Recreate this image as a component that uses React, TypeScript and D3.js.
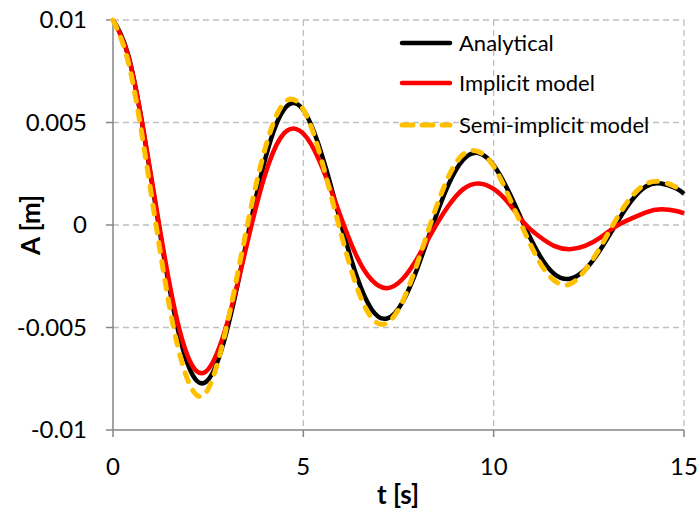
import React from "react";
import * as d3 from "d3";

const tValues = [0, 0.4, 0.8, 1.2, 1.6, 2.0, 2.4, 2.8, 3.2, 3.6, 4.0, 4.4, 4.8, 5.2, 5.6, 6.0, 6.4, 6.8, 7.2, 7.6, 8.0, 8.4, 8.8, 9.2, 9.6, 10.0, 10.4, 10.8, 11.2, 11.6, 12.0, 12.4, 12.8, 13.2, 13.6, 14.0, 14.4, 14.8, 15.0];

const analytical = [0.01, 0.00829, 0.00458, 0, -0.0042, -0.00696, -0.0077, -0.00638, -0.00353, 0, 0.00323, 0.00536, 0.00593, 0.00491, 0.00272, 0, -0.00249, -0.00413, -0.00456, -0.00378, -0.00209, 0, 0.00192, 0.00318, 0.00351, 0.00291, 0.00161, 0, -0.00146, -0.0024, -0.00262, -0.00218, -0.00121, 0, 0.00114, 0.00188, 0.00202, 0.00178, 0.00152];

const implicitModel = [0.01, 0.00825, 0.00463, 0.00015, -0.00394, -0.00656, -0.0072, -0.00593, -0.00339, -0.0003, 0.00248, 0.00425, 0.00469, 0.00396, 0.00232, 0.00032, -0.00152, -0.00269, -0.00308, -0.00265, -0.0016, -0.00029, 0.0009, 0.00175, 0.00203, 0.00176, 0.00105, 0.0001, -0.00056, -0.00103, -0.00118, -0.00102, -0.00062, -0.00008, 0.0003, 0.00062, 0.00077, 0.00068, 0.00056];

const semiImplicit = [0.01, 0.00795, 0.00394, -0.00083, -0.00508, -0.00772, -0.00827, -0.00637, -0.00306, 0.00063, 0.00375, 0.00572, 0.00607, 0.00482, 0.00234, -0.00049, -0.003, -0.00454, -0.00478, -0.00376, -0.00184, 0.00038, 0.00231, 0.00345, 0.00358, 0.00286, 0.00138, -0.00029, -0.00179, -0.00272, -0.00289, -0.0022, -0.00109, 0.00022, 0.00133, 0.002, 0.00211, 0.00184, 0.00163];

const xTicks = [0, 5, 10, 15];
const yTicks = [-0.01, -0.005, 0, 0.005, 0.01];
const yTickLabels = ["-0.01", "-0.005", "0", "0.005", "0.01"];

const seriesNames = ["Analytical", "Implicit model", "Semi-implicit model"];
const seriesColors = ["#000000", "#FF0000", "#FFC000"];

const W = 699;
const H = 518;
const margin = { left: 113, right: 15, top: 20, bottom: 88 };
const FONT = "Lato, 'Open Sans', sans-serif";

export default function App() {
  const x = d3.scaleLinear().domain([0, 15]).range([margin.left, W - margin.right]);
  const y = d3.scaleLinear().domain([-0.01, 0.01]).range([H - margin.bottom, margin.top]);

  const mk = (vals: number[]) =>
    d3
      .line<number>()
      .x((_, i) => x(tValues[i]))
      .y((v) => y(v))
      .curve(d3.curveNatural)(vals) || "";

  const series = [analytical, implicitModel, semiImplicit];
  const x0 = x(0);
  const x1 = x(15);
  const yb = y(-0.01);
  const yt = y(0.01);

  const legendY = [43, 83, 125];

  return (
    <svg width={W} height={H} style={{ position: "absolute", left: 0, top: 0, background: "#fff" }} fontFamily={FONT}>
      <rect x={0} y={0} width={W} height={H} fill="#fff" />
      {/* gridlines */}
      {yTicks.filter((v) => v !== -0.01).map((v) => (
        <line key={"gy" + v} x1={x0} x2={x1} y1={y(v)} y2={y(v)} stroke="#BFBFBF" strokeWidth={1.3} strokeDasharray="6 4" />
      ))}
      {xTicks.filter((v) => v !== 0).map((v) => (
        <line key={"gx" + v} x1={x(v)} x2={x(v)} y1={yt} y2={yb} stroke="#BFBFBF" strokeWidth={1.3} strokeDasharray="6 4" />
      ))}
      {/* axes */}
      <line x1={x0} x2={x0} y1={yt} y2={yb} stroke="#868686" strokeWidth={1.5} />
      <line x1={x0} x2={x1} y1={yb} y2={yb} stroke="#868686" strokeWidth={1.5} />
      {yTicks.map((v) => (
        <line key={"ty" + v} x1={x0 - 7} x2={x0} y1={y(v)} y2={y(v)} stroke="#868686" strokeWidth={1.5} />
      ))}
      {xTicks.map((v) => (
        <line key={"tx" + v} x1={x(v)} x2={x(v)} y1={yb} y2={yb + 7} stroke="#868686" strokeWidth={1.5} />
      ))}
      {yTicks.map((v, i) => (
        <text key={"ly" + v} x={87} y={y(v)} dy="0.35em" textAnchor="end" fontSize={24} fill="#000">
          {yTickLabels[i]}
        </text>
      ))}
      {xTicks.map((v) => (
        <text key={"lx" + v} x={x(v)} y={475} textAnchor="middle" fontSize={24} fill="#000">
          {String(v)}
        </text>
      ))}
      <text x={398} y={504} textAnchor="middle" fontSize={26} fontWeight="bold" fill="#000">
        t [s]
      </text>
      <text transform="translate(40,225) rotate(-90)" textAnchor="middle" fontSize={26} fontWeight="bold" fill="#000">
        A [m]
      </text>
      {/* series */}
      <path d={mk(series[0])} fill="none" stroke={seriesColors[0]} strokeWidth={4.5} strokeLinejoin="round" />
      <path d={mk(series[1])} fill="none" stroke={seriesColors[1]} strokeWidth={4.5} strokeLinejoin="round" />
      <path d={mk(series[2])} fill="none" stroke={seriesColors[2]} strokeWidth={5} strokeDasharray="9 10" strokeLinecap="round" />
      {/* legend */}
      {seriesNames.map((n, i) => (
        <g key={n}>
          <line
            x1={402}
            x2={450}
            y1={legendY[i]}
            y2={legendY[i]}
            stroke={seriesColors[i]}
            strokeWidth={i === 2 ? 5 : 4.5}
            strokeLinecap="round"
            strokeDasharray={i === 2 ? "11 9" : undefined}
          />
          <text x={459} y={legendY[i]} dy="0.35em" fontSize={22} fill="#000">
            {n}
          </text>
        </g>
      ))}
    </svg>
  );
}
